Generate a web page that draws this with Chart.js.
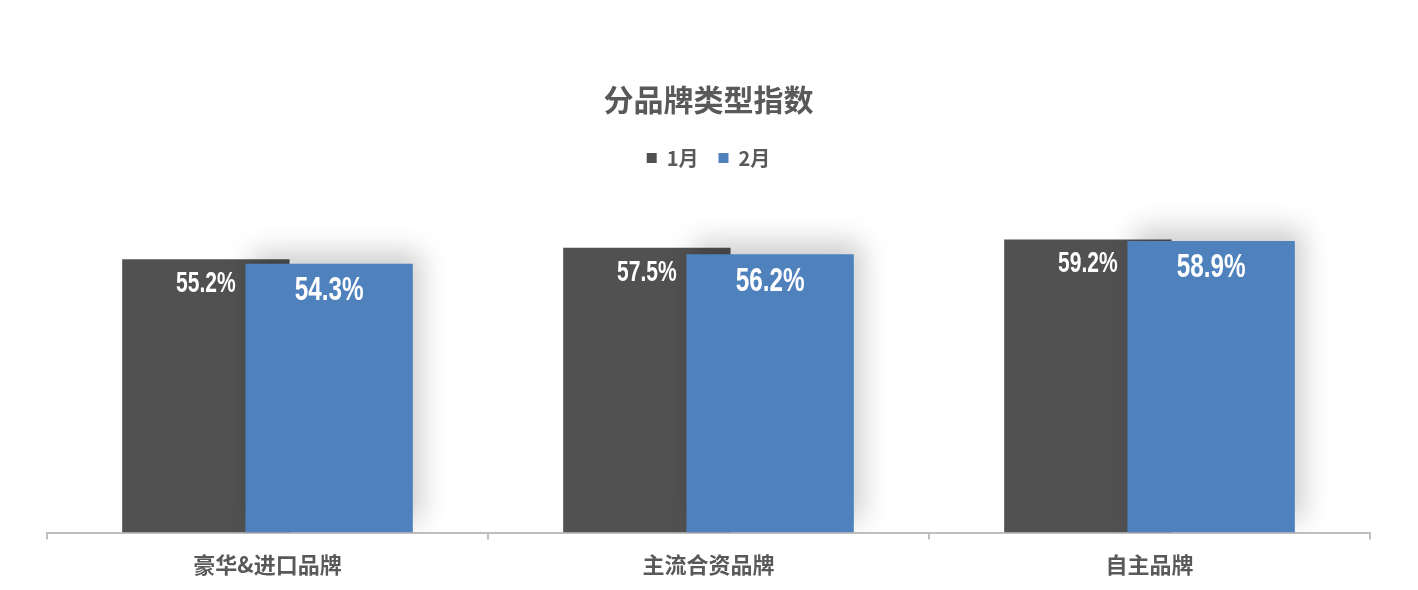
<!DOCTYPE html>
<html>
<head>
<meta charset="utf-8">
<script src="https://cdn.jsdelivr.net/npm/chart.js@4"></script>
<style>
  html, body { margin: 0; padding: 0; background: #ffffff; }
  #wrap { width: 1418px; height: 590px; }
</style>
</head>
<body>
<div id="wrap"><canvas id="chart"></canvas></div>
<script>
// data
const categories = ['豪华&进口品牌', '主流合资品牌', '自主品牌'];
const seriesNames = ['1月', '2月'];
const janValues = [55.2, 57.5, 59.2];
const febValues = [54.3, 56.2, 58.9];

const cjkFont = '"Noto Sans CJK SC", "Noto Sans", sans-serif';
const textGray = '#595959';

// draw datasets in index order so the blue bar overlaps the dark one,
// blue one gets a soft shadow
const drawOrderPlugin = {
  id: 'drawOrder',
  beforeDatasetsDraw(chart) {
    const ctx = chart.ctx;
    const area = chart.chartArea;
    chart.data.datasets.forEach((ds, i) => {
      const meta = chart.getDatasetMeta(i);
      if (meta.hidden) return;
      ctx.save();
      ctx.beginPath();
      ctx.rect(area.left, area.top - 40, area.right - area.left + 40, area.bottom - area.top + 40);
      ctx.clip();
      if (i === 1) {
        ctx.shadowColor = 'rgba(0,0,0,0.2)';
        ctx.shadowBlur = 26;
        ctx.shadowOffsetX = 8;
        ctx.shadowOffsetY = -12;
      }
      meta.controller.draw();
      ctx.restore();
    });
    return false;
  }
};

// value labels inside the top of each bar
const valueLabels = {
  id: 'valueLabels',
  afterDraw(chart) {
    const ctx = chart.ctx;
    const sizes = [26, 30];
    const offsets = [25, 27];
    chart.data.datasets.forEach((ds, i) => {
      const meta = chart.getDatasetMeta(i);
      meta.data.forEach((bar, j) => {
        ctx.save();
        ctx.fillStyle = '#ffffff';
        ctx.font = 'bold ' + sizes[i] + 'px "Liberation Sans Narrow", "Liberation Sans", Arial, sans-serif';
        ctx.textAlign = 'center';
        ctx.textBaseline = 'middle';
        ctx.translate(bar.x, bar.y + offsets[i]);
        ctx.scale(0.81, 1.12);
        ctx.fillText(ds.data[j].toFixed(1) + '%', 0, 0);
        ctx.restore();
      });
    });
  }
};

const chart = new Chart(document.getElementById('chart'), {
  type: 'bar',
  data: {
    labels: categories,
    datasets: [
      {
        label: seriesNames[0],
        data: janValues,
        backgroundColor: '#515151',
        borderWidth: 0,
      },
      {
        label: seriesNames[1],
        data: febValues,
        backgroundColor: '#4f81bd',
        borderWidth: 0,
      },
    ],
  },
  options: {
    responsive: true,
    maintainAspectRatio: false,
    animation: false,
    categoryPercentage: 0.559,
    barPercentage: 1.358,
    layout: {
      padding: { left: 47, right: 48, top: 0, bottom: 0 },
    },
    plugins: {
      tooltip: { enabled: false },
      title: {
        display: true,
        text: '分品牌类型指数',
        color: textGray,
        font: { family: cjkFont, size: 30, weight: 'bold' },
        padding: { top: 82, bottom: 10 },
      },
      legend: {
        display: true,
        labels: {
          color: textGray,
          font: { family: cjkFont, size: 20, weight: 'bold' },
          boxWidth: 10,
          boxHeight: 10,
          padding: 20,
        },
      },
    },
    scales: {
      x: {
        offset: true,
        grid: {
          offset: true,
          drawOnChartArea: false,
          drawTicks: true,
          tickLength: 7,
          color: '#bfbfbf',
          lineWidth: 2,
        },
        border: { color: '#bfbfbf', width: 2 },
        ticks: {
          color: textGray,
          font: { family: cjkFont, size: 22, weight: 'bold' },
          padding: 12,
        },
      },
      y: {
        display: false,
        min: 0,
        max: 71.6,
      },
    },
  },
  plugins: [drawOrderPlugin, valueLabels],
});
</script>
</body>
</html>
